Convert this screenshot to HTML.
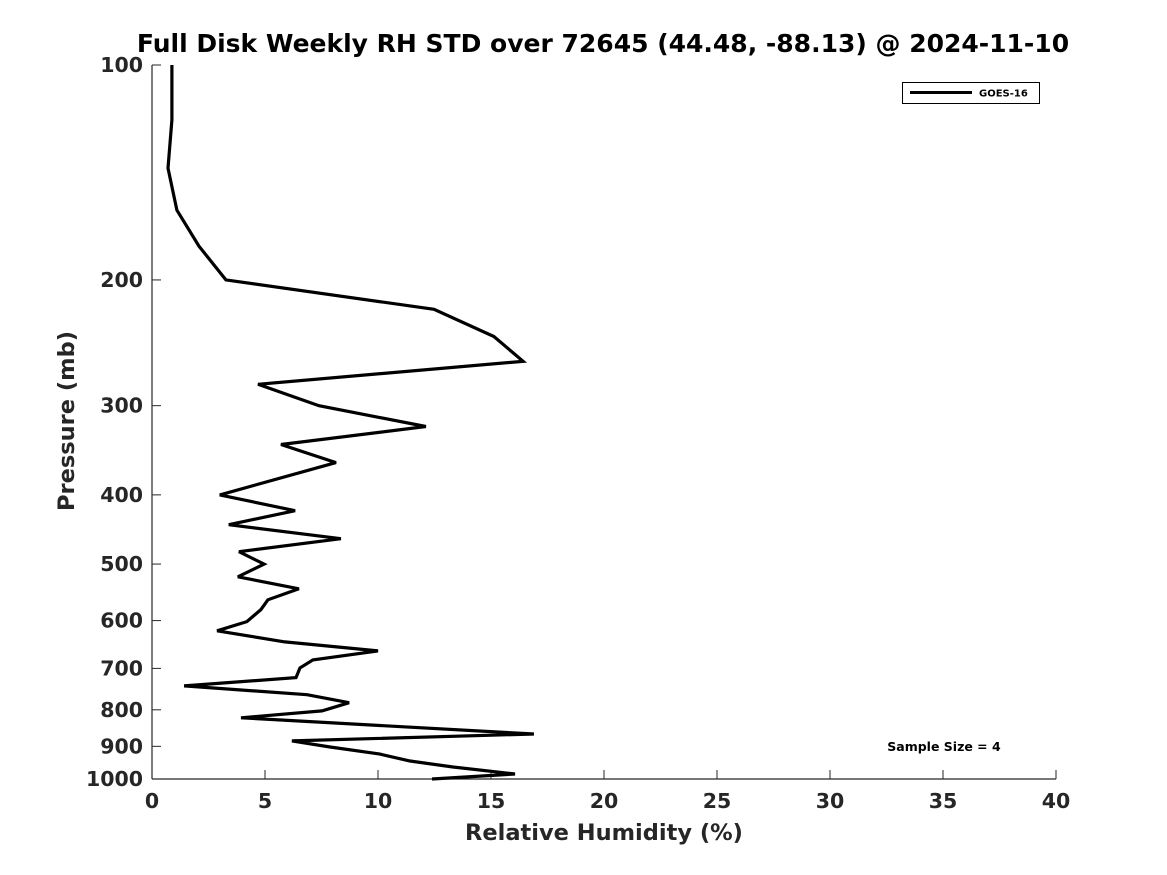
<!DOCTYPE html>
<html><head><meta charset="utf-8"><style>
body{margin:0;background:#fff;}
svg{display:block;font-family:"DejaVu Sans","Liberation Sans",sans-serif;font-weight:bold;}
</style></head><body>
<svg id="chart" width="1167" height="875" xmlns="http://www.w3.org/2000/svg">
<rect width="1167" height="875" fill="#fff"/>
<text x="603" y="52" text-anchor="middle" font-size="25" fill="#000">Full Disk Weekly RH STD over 72645 (44.48, -88.13) @ 2024-11-10</text>
<g id="axes"></g>
<g id="series"></g>
<g>
<rect x="902.5" y="82.5" width="137" height="21" fill="#fff" stroke="#000" stroke-width="1"/>
<line x1="910" y1="92.5" x2="972" y2="92.5" stroke="#000" stroke-width="3"/>
<text x="979" y="96.5" font-size="10" fill="#000">GOES-16</text>
</g>
<text x="944" y="751" text-anchor="middle" font-size="12.5" fill="#000">Sample Size = 4</text>
<text x="604" y="840" text-anchor="middle" font-size="22.5" fill="#262626">Relative Humidity (%)</text>
<text transform="translate(74,421) rotate(-90)" text-anchor="middle" font-size="22.5" fill="#262626">Pressure (mb)</text>
</svg>
<script>
const pressures=[100,119.4,139.5,159.7,179.4,200,219.9,240,260,280,300,320.9,340,360.5,400,420.9,440.4,460.7,480.4,500,521,541.5,561,579,602,620,642.7,661.6,681,698.8,721,740.6,762,782,802.8,821,864.8,884.5,902,922.7,943.6,962,984,1000];
const rhStd=[0.88,0.88,0.71,1.1,2.08,3.27,12.48,15.13,16.42,4.69,7.39,12.12,5.71,8.14,3.0,6.33,3.4,8.36,3.85,4.96,3.8,6.5,5.13,4.82,4.2,2.88,5.88,10.0,7.12,6.55,6.37,1.42,6.86,8.72,7.52,3.94,16.9,6.19,7.88,10.09,11.42,13.32,16.06,12.39];
const xTicks=[0,5,10,15,20,25,30,35,40];
const yTicks=[100,200,300,400,500,600,700,800,900,1000];
const X0=152,X1=1056,Y0=65,Y1=779;
const xs=v=>X0+(v-0)/40*(X1-X0);
const ys=p=>Y0+Math.log10(p/100)*(Y1-Y0);
const NS="http://www.w3.org/2000/svg";
const axes=document.getElementById('axes');
function mk(tag,attrs,parent){const e=document.createElementNS(NS,tag);for(const k in attrs)e.setAttribute(k,attrs[k]);parent.appendChild(e);return e;}
let a=mk('line',{x1:X0,y1:Y0,x2:X0,y2:Y1,stroke:'#262626','stroke-width':1.2},axes);


let b=mk('line',{x1:X0,y1:Y1,x2:X1,y2:Y1,stroke:'#262626','stroke-width':1.2},axes);


xTicks.forEach(t=>{
 const x=xs(t);
 const l=mk('line',{x1:x,y1:Y1,x2:x,y2:Y1-9,stroke:'#262626','stroke-width':1},axes);
 
 
 const tx=mk('text',{x:x,y:808,'text-anchor':'middle','font-size':20.5,fill:'#262626'},axes);
 tx.textContent=t;
 
 
});
yTicks.forEach(t=>{
 const y=ys(t);
 const l=mk('line',{x1:X0,y1:y,x2:X0+9,y2:y,stroke:'#262626','stroke-width':1},axes);
 
 
 const tx=mk('text',{x:143,y:y+7,'text-anchor':'end','font-size':20.5,fill:'#262626'},axes);
 tx.textContent=t;
 
 
});
const pts=pressures.map((p,i)=>xs(rhStd[i]).toFixed(1)+','+ys(p).toFixed(1)).join(' ');
const pl=mk('polyline',{points:pts,fill:'none',stroke:'#000','stroke-width':3.2,'stroke-linejoin':'miter','stroke-miterlimit':3},document.getElementById('series'));


</script>
</body></html>
